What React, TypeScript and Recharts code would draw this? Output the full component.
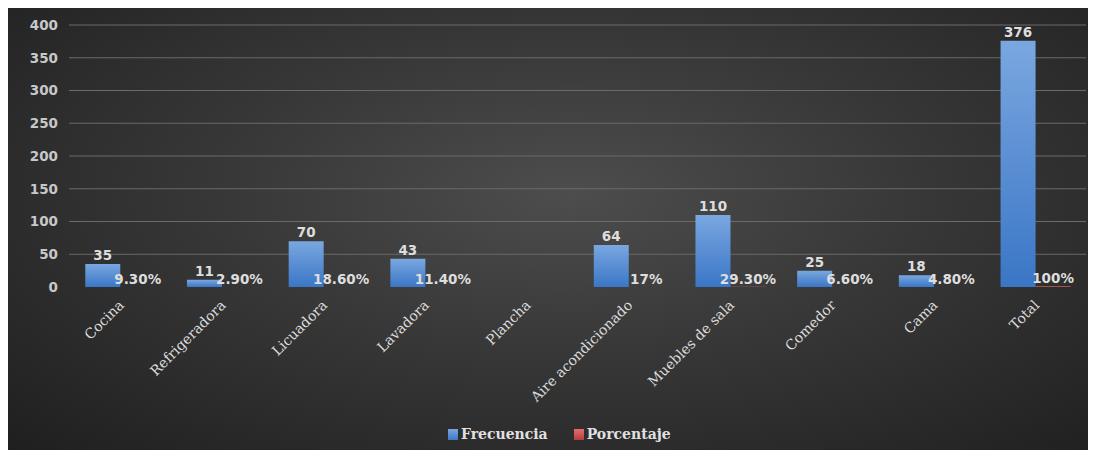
import { BarChart, Bar, XAxis, YAxis, CartesianGrid, Legend, LabelList } from 'recharts';

const categorias = [
  'Cocina',
  'Refrigeradora',
  'Licuadora',
  'Lavadora',
  'Plancha',
  'Aire acondicionado',
  'Muebles de sala',
  'Comedor',
  'Cama',
  'Total',
];
const frecuencia = [35, 11, 70, 43, null, 64, 110, 25, 18, 376];
const porcentaje = [0.093, 0.029, 0.186, 0.114, null, 0.17, 0.293, 0.066, 0.048, 1];
const porcentajeTexto = ['9.30%', '2.90%', '18.60%', '11.40%', '', '17%', '29.30%', '6.60%', '4.80%', '100%'];
const yTicks = [0, 50, 100, 150, 200, 250, 300, 350, 400];

const data = categorias.map((name, i) => ({
  name,
  Frecuencia: frecuencia[i],
  Porcentaje: porcentaje[i],
  etiqueta: porcentajeTexto[i],
}));

const labelFont = { fontFamily: 'DejaVu Sans', fontSize: 13.5, fontWeight: 700 };

const CatTick = ({ x, y, payload }: any) => (
  <g transform={`translate(${x + 5},${y + 19})`}>
    <text
      x={0}
      y={0}
      textAnchor="end"
      transform="rotate(-45)"
      fill="#dcdcdc"
      fontFamily="DejaVu Serif"
      fontSize={14}
    >
      {payload.value}
    </text>
  </g>
);

const FrecLabel = ({ x, y, width, value }: any) => {
  if (value == null) return null;
  return (
    <text x={x + width / 2} y={y - 4} textAnchor="middle" fill="#dedede" {...labelFont}>
      {value}
    </text>
  );
};

const PorcLabel = ({ x, y, width, value }: any) => {
  if (!value) return null;
  return (
    <text x={x + width / 2} y={y - 3} textAnchor="middle" fill="#dedede" {...labelFont}>
      {value}
    </text>
  );
};

const LegendBox = () => (
  <div
    style={{
      position: 'relative',
      height: 30,
      fontFamily: 'DejaVu Serif',
      fontSize: 14,
      fontWeight: 700,
      color: '#e0e0e0',
    }}
  >
    <div style={{ position: 'absolute', left: 440, top: 6, display: 'flex', alignItems: 'center' }}>
      <span style={{ width: 10, height: 11, background: 'linear-gradient(#7aa6e0, #3d78c6)', marginRight: 3 }} />
      <span style={{ marginRight: 26 }}>Frecuencia</span>
      <span style={{ width: 10, height: 11, background: 'linear-gradient(#e07070, #b83c3a)', marginRight: 3 }} />
      <span>Porcentaje</span>
    </div>
  </div>
);

export default function App() {
  return (
    <div
      style={{
        width: 1080,
        height: 442,
        background: 'radial-gradient(ellipse at 52% 42%, #4d4d4d 0%, #373737 45%, #1f1f1f 100%)',
      }}
    >
      <BarChart
        width={1080}
        height={442}
        data={data}
        margin={{ top: 17, right: 2, left: 0, bottom: 0 }}
        barCategoryGap="16%"
        barGap={0}
      >
        <defs>
          <linearGradient id="gFrec" x1="0" y1="0" x2="0" y2="1">
            <stop offset="0%" stopColor="#7aa7e0" />
            <stop offset="100%" stopColor="#3a76c6" />
          </linearGradient>
          <linearGradient id="gPorc" x1="0" y1="0" x2="0" y2="1">
            <stop offset="0%" stopColor="#d46664" />
            <stop offset="100%" stopColor="#b03f3c" />
          </linearGradient>
        </defs>
        <CartesianGrid vertical={false} stroke="#6a6a6a" horizontalValues={[50, 100, 150, 200, 250, 300, 350, 400]} />
        <XAxis
          dataKey="name"
          interval={0}
          axisLine={false}
          tickLine={false}
          tickSize={0}
          tickMargin={0}
          height={133}
          tick={<CatTick />}
        />
        <YAxis
          width={61}
          domain={[0, 400]}
          ticks={yTicks}
          axisLine={false}
          tickLine={false}
          tickMargin={5}
          tick={{ fill: '#c8c8c8', ...labelFont }}
        />
        <Legend verticalAlign="bottom" content={<LegendBox />} wrapperStyle={{ left: 0, width: 1078 }} />
        <Bar dataKey="Frecuencia" fill="url(#gFrec)" isAnimationActive={false}>
          <LabelList dataKey="Frecuencia" content={<FrecLabel />} />
        </Bar>
        <Bar dataKey="Porcentaje" fill="url(#gPorc)" isAnimationActive={false}>
          <LabelList dataKey="etiqueta" content={<PorcLabel />} />
        </Bar>
      </BarChart>
    </div>
  );
}
